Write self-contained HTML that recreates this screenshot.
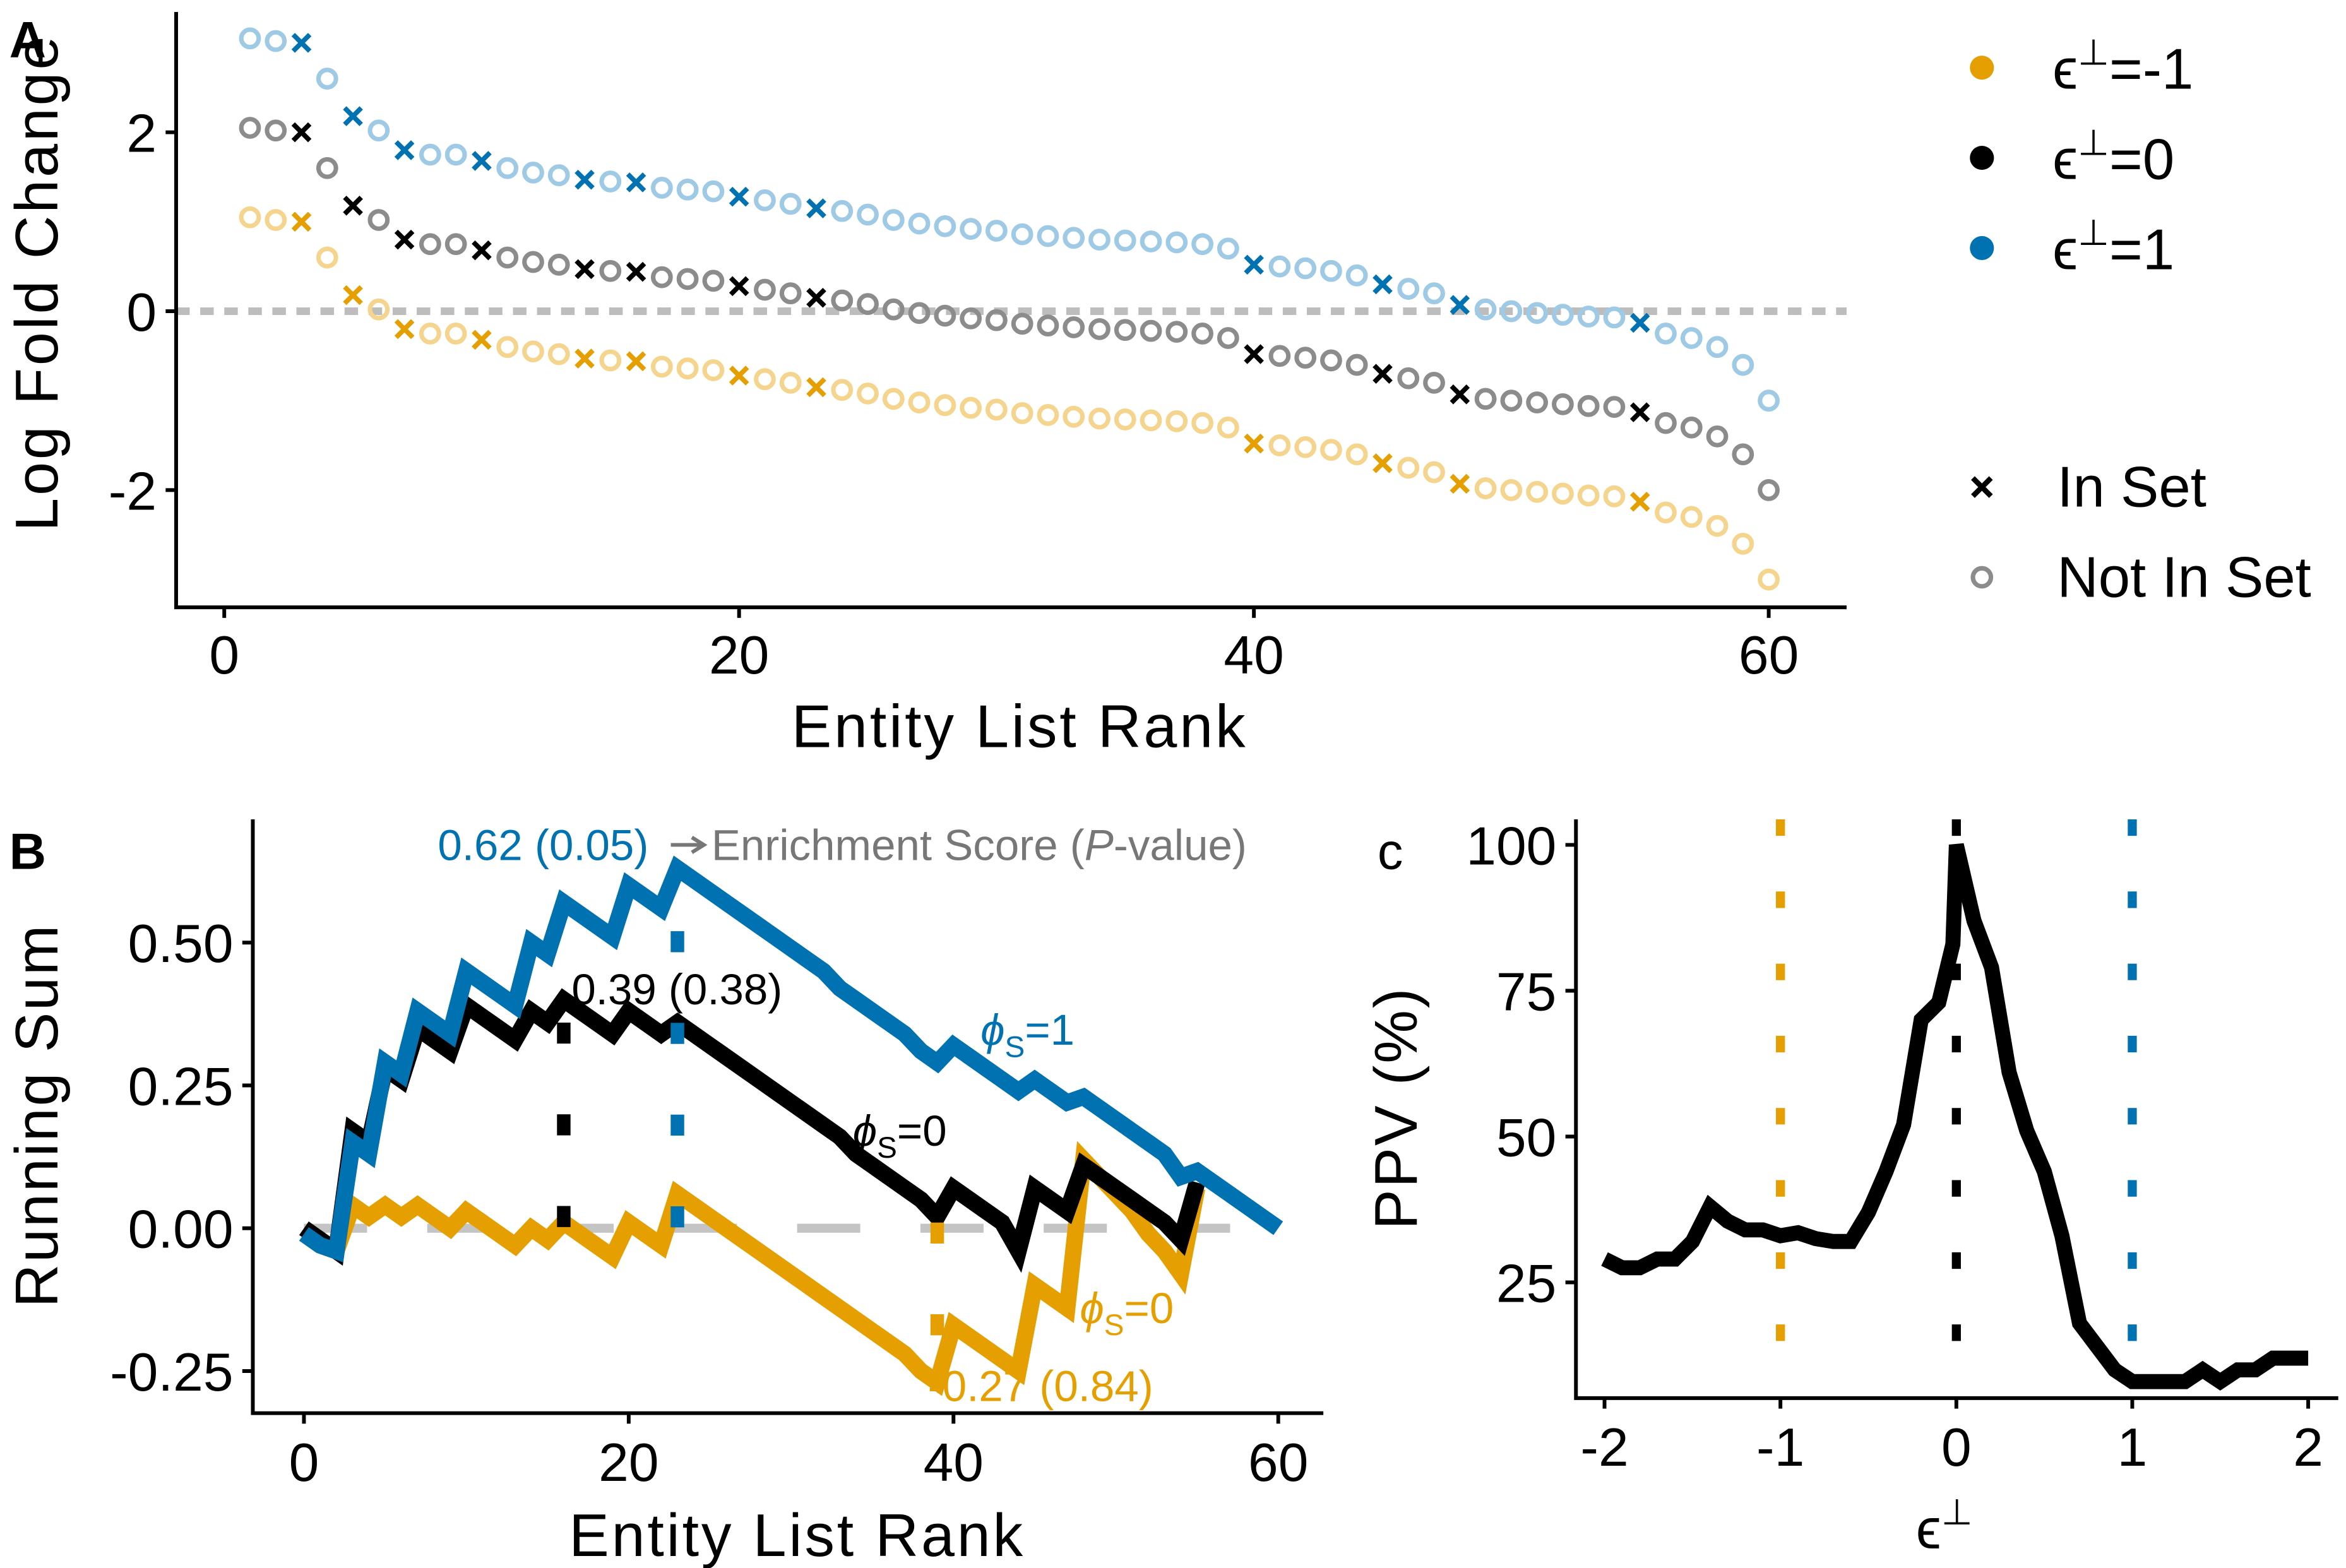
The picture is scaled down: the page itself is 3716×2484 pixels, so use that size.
<!DOCTYPE html>
<html><head><meta charset="utf-8">
<style>
html,body{margin:0;padding:0;background:#fff}
svg{display:block;font-family:"Liberation Sans",Arial,sans-serif}
</style></head>
<body>
<svg id="fig" width="3716" height="2484" viewBox="0 0 1560 1043" xmlns="http://www.w3.org/2000/svg">
<rect width="1560" height="1043" fill="#fff"/>
<g id="pa"></g>
<g id="pb"></g>
<g id="pc"></g>
</svg>
<script>
// ---- Panel A data ----
const ranksA = Array.from({length:60},(_,i)=>i+1);
const lfcBase = [2.05,2.02,2.0,1.6,1.18,1.02,0.8,0.75,0.75,0.68,0.6,0.55,0.52,0.47,0.45,0.44,0.38,0.36,0.34,0.28,0.24,0.2,0.15,0.12,0.08,0.02,-0.02,-0.05,-0.08,-0.1,-0.14,-0.16,-0.18,-0.2,-0.21,-0.22,-0.23,-0.25,-0.3,-0.48,-0.5,-0.52,-0.55,-0.6,-0.7,-0.75,-0.8,-0.93,-0.98,-1.0,-1.02,-1.04,-1.06,-1.07,-1.13,-1.25,-1.3,-1.4,-1.6,-2.0];
const inSetRanks = [3,5,7,10,14,16,20,23,40,45,48,55];
const epsShifts = [1,0,-1];
const xTicksA = [0,20,40,60];
const yTicksA = [-2,0,2];
// ---- Panel B data ----
const ranksB = Array.from({length:61},(_,i)=>i);
const runBlue = [-0.01,-0.03,-0.04,0.15,0.13,0.29,0.27,0.38,0.36,0.34,0.45,0.43,0.41,0.39,0.50,0.48,0.57,0.55,0.53,0.51,0.60,0.58,0.56,0.63,0.61,0.59,0.57,0.55,0.53,0.51,0.49,0.47,0.45,0.42,0.40,0.38,0.36,0.34,0.31,0.29,0.32,0.30,0.28,0.26,0.24,0.26,0.24,0.22,0.23,0.21,0.19,0.17,0.15,0.13,0.09,0.10,0.08,0.06,0.04,0.02,0.0];
const runBlack = [0,-0.02,-0.04,0.17,0.15,0.28,0.26,0.35,0.33,0.31,0.39,0.37,0.35,0.33,0.38,0.36,0.40,0.38,0.36,0.34,0.38,0.36,0.34,0.36,0.34,0.32,0.30,0.28,0.26,0.24,0.22,0.20,0.18,0.16,0.13,0.11,0.09,0.07,0.05,0.02,0.07,0.05,0.03,0.01,-0.04,0.07,0.05,0.03,0.11,0.09,0.07,0.05,0.03,0.01,-0.02,0.08];
const runYellow = [-0.01,-0.03,-0.04,0.04,0.02,0.04,0.02,0.04,0.02,0.0,0.03,0.01,-0.01,-0.03,0.0,-0.02,0.01,-0.01,-0.03,-0.05,0.01,-0.01,-0.03,0.06,0.04,0.02,0.0,-0.02,-0.04,-0.06,-0.08,-0.10,-0.12,-0.14,-0.16,-0.18,-0.20,-0.22,-0.25,-0.27,-0.17,-0.19,-0.21,-0.23,-0.25,-0.10,-0.12,-0.14,0.12,0.09,0.06,0.03,-0.01,-0.04,-0.08,0.07];
const xTicksB = [0,20,40,60];
const yTicksB = [-0.25,0,0.25,0.5];
const yTickLabB = ["-0.25","0.00","0.25","0.50"];
// ---- Panel C data ----
const epsC = [-2,-1.9,-1.8,-1.7,-1.6,-1.5,-1.4,-1.3,-1.2,-1.1,-1,-0.9,-0.8,-0.7,-0.6,-0.5,-0.4,-0.3,-0.2,-0.1,-0.02,0,0.1,0.2,0.3,0.4,0.5,0.6,0.7,0.8,0.9,1.0,1.1,1.2,1.3,1.4,1.5,1.6,1.7,1.8,1.9,2.0];
const ppvC = [29,27.5,27.5,29,29,32,38,35.5,34,34,33,33.5,32.5,32,32,37,44,52,70,73,83,100,87,79,61,51,44,33,18,14,10,8,8,8,8,10,8,10,10,12,12,12];
const xTicksC = [-2,-1,0,1,2];
const yTicksC = [25,50,75,100];

const NS='http://www.w3.org/2000/svg';
const BLUE='#0072B2', YEL='#E69F00', LBLUE='#9ECAE6', LYEL='#F5D48E', GREY='#8C8C8C';
function mk(parent,tag,attrs,text){const e=document.createElementNS(NS,tag);for(const k in attrs)e.setAttribute(k,attrs[k]);if(text!==undefined)e.textContent=text;parent.appendChild(e);return e;}

// ===== Panel A =====
const pa=document.getElementById('pa');
const xA=v=>149+v*17.12, yA=v=>207-v*59.5;
mk(pa,'line',{x1:117,y1:207,x2:1228,y2:207,stroke:'#bdbdbd','stroke-width':5,'stroke-dasharray':'9,7'});
const colsA={1:[BLUE,LBLUE],0:['#000',GREY],'-1':[YEL,LYEL]};
epsShifts.forEach(s=>{
  const [dark,light]=colsA[s];
  const g=mk(pa,'g',{});
  
  
  ranksA.forEach((r,i)=>{
    const cx=xA(r), cy=yA(lfcBase[i]+s);
    if(inSetRanks.includes(r)){
      const p=mk(g,'path',{d:`M${cx-5.5},${cy-5.5}L${cx+5.5},${cy+5.5}M${cx-5.5},${cy+5.5}L${cx+5.5},${cy-5.5}`,stroke:dark,'stroke-width':3.2});
      
      
    } else {
      const c=mk(g,'circle',{cx,cy,r:5.8,fill:'none',stroke:light,'stroke-width':3});
      
      
    }
  });
});
mk(pa,'path',{d:'M117,8V404H1228',fill:'none',stroke:'#000','stroke-width':2.5});
xTicksA.forEach(t=>{mk(pa,'line',{x1:xA(t),y1:404,x2:xA(t),y2:411,stroke:'#000','stroke-width':2.5});
  const e=mk(pa,'text',{x:xA(t),y:448,'font-size':36,'text-anchor':'middle'},t);});
yTicksA.forEach(t=>{mk(pa,'line',{x1:110,y1:yA(t),x2:117,y2:yA(t),stroke:'#000','stroke-width':2.5});
  const e=mk(pa,'text',{x:104,y:yA(t)+13,'font-size':36,'text-anchor':'end'},t);});
let t=mk(pa,'text',{x:678,y:497,'font-size':40,'letter-spacing':1.6,'text-anchor':'middle'},'Entity List Rank');
t=mk(pa,'text',{x:0,y:0,'font-size':40,'letter-spacing':1.6,'text-anchor':'middle',transform:'translate(38,188) rotate(-90)'},'Log Fold Change');
t=mk(pa,'text',{x:6,y:38,'font-size':34,'font-weight':'bold'},'A');
// legend
[[YEL,'-1',45],['#000','0',105],[BLUE,'1',165]].forEach(([c,v,y])=>{
  const g=mk(pa,'g',{});
  mk(g,'circle',{cx:1318,cy:y,r:8,fill:c});
  const tx=mk(g,'text',{x:1365,y:y+14,'font-size':38},'ϵ');
  mk(tx,'tspan',{dy:-16,'font-size':24},'⊥');
  mk(tx,'tspan',{dy:16},'='+v);
});
let g=mk(pa,'g',{});
mk(g,'path',{d:'M1312,318L1324,330M1312,330L1324,318',stroke:'#000','stroke-width':3.5});
mk(g,'text',{x:1368,y:337,'font-size':38},'In Set');
g=mk(pa,'g',{});
mk(g,'circle',{cx:1318,cy:384,r:6,fill:'none',stroke:GREY,'stroke-width':3});
mk(g,'text',{x:1368,y:397,'font-size':38},'Not In Set');

// ===== Panel B =====
const pb=document.getElementById('pb');
const xB=v=>202+v*10.8, yB=v=>817-v*380;
mk(pb,'line',{x1:202,y1:817,x2:850,y2:817,stroke:'#c4c4c4','stroke-width':6,'stroke-dasharray':'42,40'});
function runLine(arr,col,name){
  const pts=arr.map((v,i)=>xB(ranksB[i]).toFixed(1)+','+yB(v).toFixed(1)).join(' ');
  const p=mk(pb,'polyline',{points:pts,fill:'none',stroke:col,'stroke-width':11,'stroke-linejoin':'miter','stroke-miterlimit':3});
  
}
runLine(runYellow,YEL,'running-sum-yellow');
runLine(runBlack,'#000','running-sum-black');
runLine(runBlue,BLUE,'running-sum-blue');
function vdot(x,y1,y2,col,name){const l=mk(pb,'line',{x1:x,y1:yB(y1),x2:x,y2:yB(y2),stroke:col,'stroke-width':9,'stroke-dasharray':'14,47'});}
vdot(xB(16),0.36,0.0,'#000','leading-edge-black');
vdot(xB(23),0.52,0.0,BLUE,'leading-edge-blue');
vdot(xB(39),0.01,-0.2,YEL,'leading-edge-yellow');
mk(pb,'path',{d:'M168,545V940H880',fill:'none',stroke:'#000','stroke-width':2.5});
xTicksB.forEach(v=>{mk(pb,'line',{x1:xB(v),y1:940,x2:xB(v),y2:947,stroke:'#000','stroke-width':2.5});
  const e=mk(pb,'text',{x:xB(v),y:985,'font-size':36,'text-anchor':'middle'},v);});
yTicksB.forEach((v,i)=>{mk(pb,'line',{x1:161,y1:yB(v),x2:168,y2:yB(v),stroke:'#000','stroke-width':2.5});
  const e=mk(pb,'text',{x:155,y:yB(v)+13,'font-size':36,'text-anchor':'end'},yTickLabB[i]);});
t=mk(pb,'text',{x:530,y:1035,'font-size':40,'letter-spacing':1.6,'text-anchor':'middle'},'Entity List Rank');
t=mk(pb,'text',{x:0,y:0,'font-size':40,'letter-spacing':1.2,'text-anchor':'middle',transform:'translate(38,742) rotate(-90)'},'Running Sum');
t=mk(pb,'text',{x:6,y:578,'font-size':34,'font-weight':'bold'},'B');
t=mk(pb,'text',{x:291,y:572,'font-size':29,fill:BLUE},'0.62 (0.05)');
mk(pb,'path',{d:'M446,562H466M460,557L468,562L460,567',stroke:'#777','stroke-width':2.5,fill:'none'});
t=mk(pb,'text',{x:473,y:572,'font-size':29,fill:'#777'});
mk(t,'tspan',{},'Enrichment Score (');mk(t,'tspan',{'font-style':'italic'},'P');mk(t,'tspan',{},'-value)');
t=mk(pb,'text',{x:380,y:668,'font-size':29,fill:'#000'},'0.39 (0.38)');
t=mk(pb,'text',{x:617,y:932,'font-size':29,fill:YEL},'-0.27 (0.84)');
function phi(x,y,col,v,name){const e=mk(pb,'text',{x,y,'font-size':29,fill:col});
  mk(e,'tspan',{'font-style':'italic'},'ϕ');mk(e,'tspan',{dy:8,'font-size':20},'S');mk(e,'tspan',{dy:-8},'='+v);}
phi(652,695,BLUE,'1','phi-label-blue');
phi(567,762,'#000','0','phi-label-black');
phi(718,880,YEL,'0','phi-label-yellow');

// ===== Panel C =====
const pc=document.getElementById('pc');
const xC=v=>1301+v*117, yC=v=>562-(v-100)*3.88;
[[-1,YEL],[0,'#000'],[1,BLUE]].forEach(([v,c])=>{const l=mk(pc,'line',{x1:xC(v),y1:545,x2:xC(v),y2:917,stroke:c,'stroke-width':6,'stroke-dasharray':'11,37'});});
const pl=mk(pc,'polyline',{points:epsC.map((v,i)=>xC(v).toFixed(1)+','+yC(ppvC[i]).toFixed(1)).join(' '),fill:'none',stroke:'#000','stroke-width':10,'stroke-linejoin':'miter','stroke-miterlimit':3});

mk(pc,'path',{d:'M1048,545V930H1555',fill:'none',stroke:'#000','stroke-width':2.5});
xTicksC.forEach(v=>{mk(pc,'line',{x1:xC(v),y1:930,x2:xC(v),y2:937,stroke:'#000','stroke-width':2.5});
  const e=mk(pc,'text',{x:xC(v),y:975,'font-size':36,'text-anchor':'middle'},v);});
yTicksC.forEach(v=>{mk(pc,'line',{x1:1041,y1:yC(v),x2:1048,y2:yC(v),stroke:'#000','stroke-width':2.5});
  const e=mk(pc,'text',{x:1035,y:yC(v)+13,'font-size':36,'text-anchor':'end'},v);});
t=mk(pc,'text',{x:1293,y:1030,'font-size':38,'text-anchor':'middle'},'ϵ');
mk(t,'tspan',{dy:-16,'font-size':24},'⊥');
t=mk(pc,'text',{x:0,y:0,'font-size':40,'letter-spacing':1.2,'text-anchor':'middle',transform:'translate(942,737) rotate(-90)'},'PPV (%)');
t=mk(pc,'text',{x:916,y:578,'font-size':34},'c');
</script>
</body></html>
